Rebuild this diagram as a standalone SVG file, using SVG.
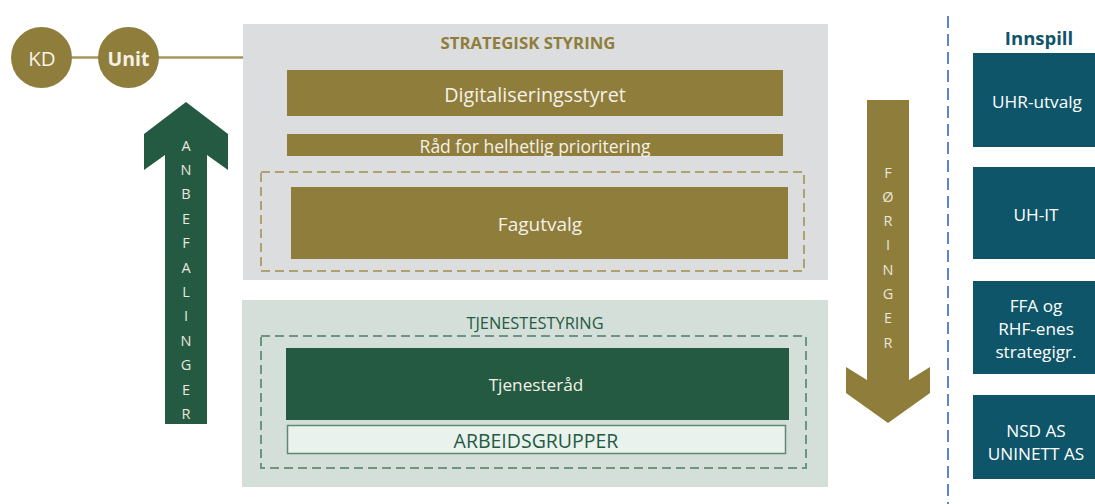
<svg xmlns="http://www.w3.org/2000/svg" width="1095" height="504" viewBox="0 0 1095 504">
<style>
text{font-family:"Open Sans",Lato,"Liberation Sans",sans-serif;text-anchor:middle;dominant-baseline:central}
.w{fill:#f4f1e6}
.olive{fill:#8f7d3c}
.green{fill:#245a42}
.teal{fill:#0e5569}
.wt{fill:#ffffff;font-size:17.2px}
.let{fill:#e8e6de;font-size:14.5px}
</style>
<rect width="1095" height="504" fill="#ffffff"/>
<g id="connectors">
<line x1="72" y1="57.5" x2="243" y2="57.5" stroke="#a8955a" stroke-width="2.5"/>
</g>
<g id="kd"><circle cx="41.5" cy="57.5" r="30.5" class="olive"/><text x="42" y="58" class="w" font-size="20.5">KD</text></g>
<g id="unit"><circle cx="128.5" cy="57.5" r="30.5" class="olive"/><text x="128.5" y="58" class="w" font-size="19.5" font-weight="bold">Unit</text></g>
<g id="strategisk">
<rect x="243" y="24" width="585" height="256" fill="#dcdddf"/>
<text x="528" y="42" fill="#8f7d3c" font-size="16.8" font-weight="bold">STRATEGISK STYRING</text>
</g>
<g id="digitaliseringsstyret"><rect x="287" y="70" width="496" height="46" class="olive"/><text x="535" y="94" class="w" font-size="19.8">Digitaliseringsstyret</text></g>
<g id="raad"><rect x="287" y="134" width="496" height="22" class="olive"/><text x="535" y="145.5" class="w" font-size="17.5">Råd for helhetlig prioritering</text></g>
<g id="fagutvalg-group"><rect x="261" y="172" width="543" height="99" fill="none" stroke="#b0a270" stroke-width="2" stroke-dasharray="9,5"/></g>
<g id="fagutvalg"><rect x="291" y="187" width="497" height="72" class="olive"/><text x="540" y="224" class="w" font-size="19">Fagutvalg</text></g>
<g id="tjenestestyring">
<rect x="242" y="300" width="586" height="187" fill="#d5dfd9"/>
<text x="535" y="322" fill="#245a42" font-size="16.4">TJENESTESTYRING</text>
<rect x="261" y="336" width="545" height="132" fill="none" stroke="#6e9580" stroke-width="2" stroke-dasharray="9,5"/>
</g>
<g id="tjenesterad"><rect x="286" y="348" width="503" height="72" class="green"/><text x="536" y="384" class="w" font-size="17.2">Tjenesteråd</text></g>
<g id="arbeidsgrupper"><rect x="287.5" y="425.5" width="498" height="28" fill="#eaf2ee" stroke="#5e8a73" stroke-width="1.5"/><text x="536" y="440" fill="#245a42" font-size="19.5">ARBEIDSGRUPPER</text></g>
<g id="anbefalinger">
<polygon points="186,102 228,134 228,170 207,155 207,424 165,424 165,155 144,170 144,134" class="green"/>
<text x="186" y="145" class="let">A</text><text x="186" y="169.4" class="let">N</text><text x="186" y="193.8" class="let">B</text><text x="186" y="218.2" class="let">E</text><text x="186" y="242.6" class="let">F</text><text x="186" y="267" class="let">A</text><text x="186" y="291.4" class="let">L</text><text x="186" y="315.8" class="let">I</text><text x="186" y="340.2" class="let">N</text><text x="186" y="364.6" class="let">G</text><text x="186" y="389" class="let">E</text><text x="186" y="413.4" class="let">R</text>
</g>
<g id="foringer">
<polygon points="867,100 909,100 909,380 930,367 930,393 888,423 846,393 846,367 867,380" class="olive"/>
<text x="888" y="172" class="let">F</text><text x="888" y="196.3" class="let">Ø</text><text x="888" y="220.6" class="let">R</text><text x="888" y="244.9" class="let">I</text><text x="888" y="269.2" class="let">N</text><text x="888" y="293.5" class="let">G</text><text x="888" y="317.8" class="let">E</text><text x="888" y="342.1" class="let">R</text>
</g>
<g id="divider"><line x1="948" y1="16" x2="948" y2="504" stroke="#5b84d6" stroke-width="2" stroke-dasharray="12,6"/></g>
<g id="innspill"><text x="1039" y="37" fill="#0e5569" font-size="18.5" font-weight="bold">Innspill</text></g>
<g id="uhr"><rect x="973" y="53" width="122" height="94" class="teal"/><text x="1037" y="101" class="wt">UHR-utvalg</text></g>
<g id="uhit"><rect x="973" y="167" width="122" height="92" class="teal"/><text x="1036" y="214" class="wt">UH-IT</text></g>
<g id="ffa"><rect x="973" y="281" width="122" height="93" class="teal"/><text x="1036" y="305" class="wt">FFA og</text><text x="1036" y="328" class="wt">RHF-enes</text><text x="1036" y="351" class="wt">strategigr.</text></g>
<g id="nsd"><rect x="973" y="395" width="122" height="84" class="teal"/><text x="1036" y="430" class="wt">NSD AS</text><text x="1036" y="453" class="wt">UNINETT AS</text></g>
</svg>
